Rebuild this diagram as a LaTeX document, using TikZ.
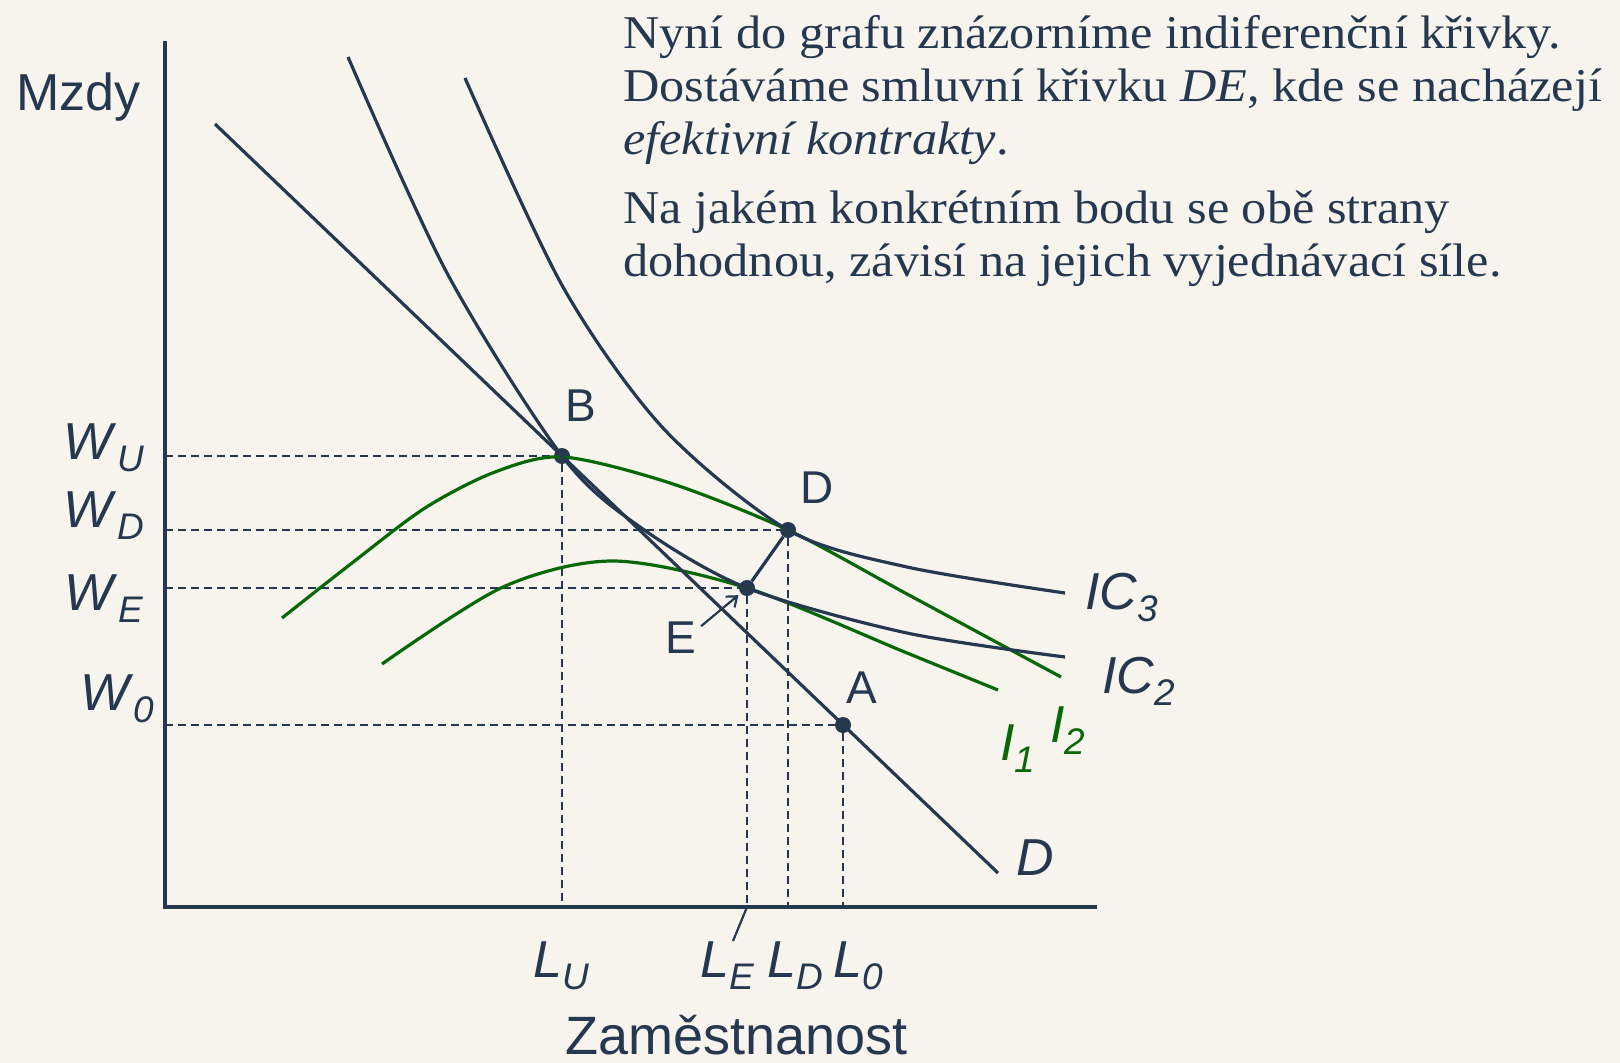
\documentclass[tikz,border=0pt]{standalone}
\usepackage{fontspec}
\setmainfont[FakeStretch=1.07]{Liberation Serif}
\setsansfont{Liberation Sans}
\usetikzlibrary{positioning,arrows.meta}
\definecolor{ink}{RGB}{38,56,80}
\definecolor{leaf}{RGB}{8,104,8}
\definecolor{paper}{RGB}{247,244,238}
\newcommand\sublbl[2]{\textit{#1}\raisebox{-12pt}{\fontsize{37}{37}\selectfont\itshape #2}}

\begin{document}
\begin{tikzpicture}[x=1pt, y=-1pt, >={Straight Barb[length=9pt,width=14pt]},
    axis/.style={draw=ink, line width=4pt},
    curve/.style={draw=ink, line width=3.2pt},
    indiff/.style={draw=leaf, line width=3.2pt},
    guide/.style={draw=ink, line width=2.2pt, dash pattern=on 8pt off 5pt},
    pnt/.style={circle, fill=ink, inner sep=0pt, minimum size=16pt},
    lab/.style={font=\sffamily\fontsize{52}{52}\selectfont, text=ink, inner sep=0pt, anchor=base west},
    ptlab/.style={font=\sffamily\fontsize{46}{46}\selectfont, text=ink, inner sep=0pt, anchor=base west}]
  \fill[paper] (0,0) rectangle (1620,1063);
  \useasboundingbox (0,0) rectangle (1620,1063);

  \node[anchor=north west, align=left, text=ink, inner sep=0pt,
        font=\fontsize{47}{53}\selectfont] (note) at (623,15)
    {Nyní do grafu znázorníme indiferenční křivky.\\
     Dostáváme smluvní křivku \textit{DE}, kde se nacházejí\\
     \textit{efektivní kontrakty}.\\[16pt]
     Na jakém konkrétním bodu se obě strany\\
     dohodnou, závisí na jejich vyjednávací síle.};

  \coordinate (O) at (165,907);
  \coordinate (ytop) at (165,41);
  \coordinate (xend) at (1097,907);
  \coordinate (dtop) at (215,124);
  \coordinate (dbot) at (998,873);

  \node[pnt] (B) at (562,456) {};
  \node[pnt] (D) at (788,530) {};
  \node[pnt] (E) at (747,588) {};
  \node[pnt] (A) at (843,725) {};

  \draw[guide] (O |- B) -- (B) -- (B |- O);
  \draw[guide] (O |- D) -- (D) -- (D |- O);
  \draw[guide] (O |- E) -- (E) -- (E |- O);
  \draw[guide] (O |- A) -- (A) -- (A |- O);

  \draw[indiff] plot[smooth] coordinates {(282,618) (352,563) (425,508) (495,472) (563,457)
    (670,483) (788,530) (907,594) (1061,677)};
  \draw[indiff] plot[smooth] coordinates {(382,664) (503,587) (613,561) (747,588)
    (907,653) (998,690)};

  \draw[curve] (dtop) -- (dbot);
  \draw[curve] plot[smooth] coordinates {(348,57) (447,273) (562,456) (640,527)
    (747,588) (907,633) (1065,657)};
  \draw[curve] plot[smooth] coordinates {(465,78) (563,287) (663,428) (788,530)
    (907,567) (1065,593)};
  \draw[curve] (E) -- (D);

  \draw[axis] (ytop) -- (O) -- (xend);

  \node[lab] (ylab) at (16,110) {Mzdy};
  \node[lab, font=\sffamily\fontsize{54}{54}\selectfont] (xlab) at (565,1054) {Zaměstnanost};
  \node[lab, anchor=base east] (WU) at (144,459) {\sublbl{W}{U}};
  \node[lab, anchor=base east] (WD) at (144,527) {\sublbl{W}{D}};
  \node[lab, anchor=base east] (WE) at (143,610) {\sublbl{W}{E}};
  \node[lab, anchor=base east] (W0) at (154,710) {\sublbl{W}{0}};
  \node[lab] (LU) at (533,977) {\sublbl{L}{U}};
  \node[lab] (LE) at (700,977) {\sublbl{L}{E}};
  \node[lab] (LD) at (767,977) {\sublbl{L}{D}};
  \node[lab] (L0) at (833,977) {\sublbl{L}{0}};
  \node[lab] (IC3) at (1085,609) {\sublbl{IC}{3}};
  \node[lab] (IC2) at (1102,693) {\sublbl{IC}{2}};
  \node[lab, text=leaf] (I1) at (1000,760) {\sublbl{I}{1}};
  \node[lab, text=leaf] (I2) at (1050,742) {\sublbl{I}{2}};
  \node[lab] (Dlab) at (1016,875) {\textit{D}};

  \node[ptlab] (Blab) at (565,421) {B};
  \node[ptlab] (Dptlab) at (800,503) {D};
  \node[ptlab] (Alab) at (846,703) {A};
  \node[ptlab] (Elab) at (665,653) {E};

  \draw[->, ink, line width=2.2pt, shorten >=3pt] ([xshift=5pt,yshift=-5pt]Elab.north east) -- (E);
  \draw[ink, line width=2.2pt] (E |- O) -- ([xshift=6pt]LE.north);
\end{tikzpicture}
\end{document}
